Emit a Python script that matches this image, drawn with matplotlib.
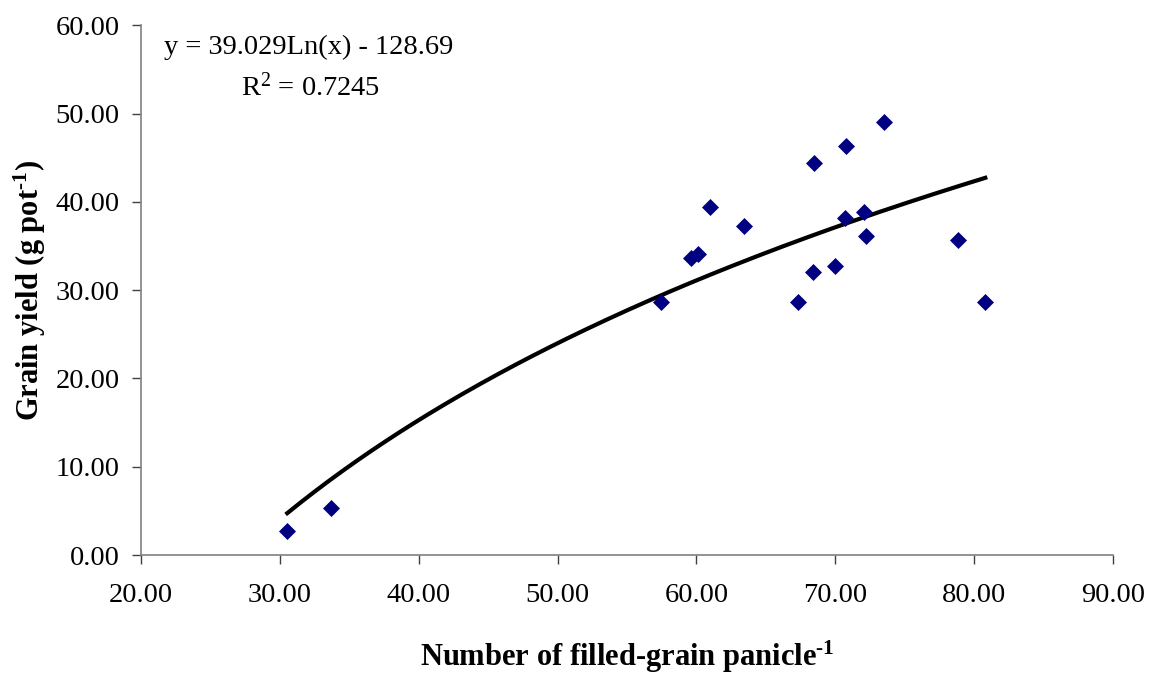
"""Grain yield vs. number of filled-grain per panicle, with log trend line."""

import matplotlib

matplotlib.use("Agg")
import matplotlib.pyplot as plt
import numpy as np

# --------------------------------------------------------------------------- #
# Data
# --------------------------------------------------------------------------- #
filled_grain = [30.53, 33.67, 57.46, 59.6, 60.1, 60.96, 63.4, 67.3, 68.4,
                68.46, 69.95, 70.7, 70.8, 72.1, 72.2, 73.5, 78.8, 80.8]
grain_yield = [2.75, 5.36, 28.69, 33.67, 34.05, 39.37, 37.3, 28.69, 32.05,
               44.36, 32.77, 38.13, 46.35, 38.81, 36.09, 49.0, 35.71, 28.65]

# Log trend line coefficients as printed on the chart
TREND_A = 39.029
TREND_B = -128.69
TREND_R2 = 0.7245

X_TICKS = [20, 30, 40, 50, 60, 70, 80, 90]
Y_TICKS = [0, 10, 20, 30, 40, 50, 60]

MARKER_COLOR = "#000080"
SPINE_COLOR = "#808080"

plt.rcParams["font.family"] = ["Liberation Serif", "DejaVu Serif"]
plt.rcParams["mathtext.fontset"] = "custom"
plt.rcParams["mathtext.rm"] = "Liberation Serif"
plt.rcParams["mathtext.it"] = "Liberation Serif:italic"
plt.rcParams["mathtext.bf"] = "Liberation Serif:bold"
plt.rcParams["mathtext.default"] = "regular"

# superscript "-1" with a real hyphen (U+2010), bold like the axis labels
SUP_BOLD = "$^{\\mathbf{\u20101}}$"

# --------------------------------------------------------------------------- #
# Figure
# --------------------------------------------------------------------------- #
fig = plt.figure(figsize=(11.6, 6.77), dpi=100)
ax = fig.add_axes([0.1216, 0.1802, 0.8379, 0.7824])

ax.scatter(filled_grain, grain_yield, marker="D", s=75, color=MARKER_COLOR,
           linewidths=0, zorder=3)

x_fit = np.linspace(min(filled_grain), max(filled_grain), 200)
ax.plot(x_fit, TREND_A * np.log(x_fit) + TREND_B, color="black", lw=3.0,
        zorder=2)

ax.set_xlim(X_TICKS[0], X_TICKS[-1])
ax.set_ylim(Y_TICKS[0], Y_TICKS[-1])
ax.set_xticks(X_TICKS)
ax.set_yticks(Y_TICKS)
ax.set_xticklabels([f"{v:.2f}" for v in X_TICKS])
ax.set_yticklabels([f"{v:.2f}" for v in Y_TICKS])
ax.tick_params(direction="out", length=6.5, width=1, color="#404040",
               labelcolor="black", labelsize=20.5)
ax.tick_params(axis="x", pad=14)
ax.tick_params(axis="y", pad=9)

for side in ("top", "right"):
    ax.spines[side].set_visible(False)
for side in ("left", "bottom"):
    ax.spines[side].set_color(SPINE_COLOR)
    ax.spines[side].set_linewidth(1.2)

ax.set_xlabel("Number of filled-grain panicle" + SUP_BOLD, fontsize=22,
              fontweight="bold", labelpad=22)
ax.set_ylabel("Grain yield (g pot" + SUP_BOLD + ")", fontsize=22,
              fontweight="bold", labelpad=5)

ax.text(0.024, 0.958, f"y = {TREND_A}Ln(x) - {abs(TREND_B)}",
        transform=ax.transAxes, fontsize=20.5, ha="left", va="center")
ax.text(0.103, 0.882, f"R$^2$ = {TREND_R2}", transform=ax.transAxes,
        fontsize=20.5, ha="left", va="center")

fig.savefig("out.png", dpi=100)
